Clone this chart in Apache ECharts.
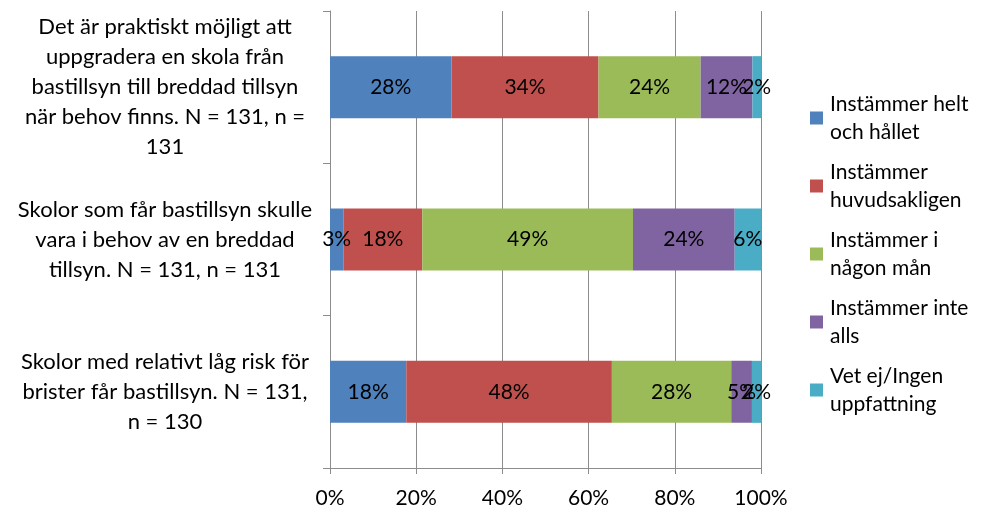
<!DOCTYPE html>
<html><head><meta charset="utf-8">
<script src="https://cdn.jsdelivr.net/npm/echarts@6/dist/echarts.min.js"></script>
<style>html,body{margin:0;padding:0;background:#fff}#c{width:982px;height:512px}</style>
</head><body><div id="c"></div>
<script>
const categories = [
  "Det är praktiskt möjligt att\nuppgradera en skola från\nbastillsyn till breddad tillsyn\nnär behov finns. N = 131, n =\n131",
  "Skolor som får bastillsyn skulle\nvara i behov av en breddad\ntillsyn. N = 131, n = 131",
  "Skolor med relativt låg risk för\nbrister får bastillsyn. N = 131,\nn = 130"
];
const seriesNames = [
  "Instämmer helt\noch hållet",
  "Instämmer\nhuvudsakligen",
  "Instämmer i\nnågon mån",
  "Instämmer inte\nalls",
  "Vet ej/Ingen\nuppfattning"
];
const helt = [28.2, 3.1, 17.7];
const huvudsakligen = [34.1, 18.3, 47.7];
const nagon = [23.7, 48.9, 27.7];
const inte = [12.0, 23.6, 4.8];
const vetej = [2.0, 6.1, 2.1];
const xTicks = [0, 20, 40, 60, 80, 100];
const colors = ["#4F81BD", "#C0504D", "#9BBB59", "#8064A2", "#4BACC6"];

const FONT = "Lato";
const allData = [helt, huvudsakligen, nagon, inte, vetej];
const L = 28;
const chart = echarts.init(document.getElementById('c'), null, {renderer: 'canvas'});
chart.setOption({
  animation: false,
  textStyle: {fontFamily: FONT},
  grid: {left: 330, right: 221, top: 11, bottom: 44, containLabel: false},
  legend: {
    orient: 'vertical', left: 810, top: 76, padding: 0,
    itemWidth: 13, itemHeight: 13, itemGap: -16,
    icon: 'rect',
    textStyle: {fontFamily: FONT, fontSize: 21, color: '#000', lineHeight: L, padding: [L, 0, 0, 2]},
    data: seriesNames
  },
  xAxis: {
    type: 'value', min: xTicks[0], max: xTicks[xTicks.length - 1], interval: 20,
    axisLine: {show: true, lineStyle: {color: '#8c8c8c', width: 1}},
    axisTick: {show: true, length: 6, lineStyle: {color: '#8c8c8c'}},
    splitLine: {show: true, lineStyle: {color: '#8c8c8c', width: 1}},
    axisLabel: {formatter: '{value}%', fontFamily: FONT, fontSize: 21, color: '#000', margin: 20}
  },
  yAxis: {
    type: 'category', inverse: true, data: categories,
    axisLine: {show: true, lineStyle: {color: '#8c8c8c', width: 1}},
    axisTick: {show: true, length: 7, lineStyle: {color: '#8c8c8c'}},
    axisLabel: {fontFamily: FONT, fontSize: 22, color: '#000', align: 'center', margin: 165, lineHeight: 30}
  },
  series: seriesNames.map((n, i) => ({
    name: n, type: 'bar', stack: 'total', barWidth: 62,
    itemStyle: {color: colors[i]},
    label: {show: true, position: 'inside', color: '#000', fontFamily: FONT, fontSize: 21,
      formatter: p => Math.round(p.value) + '%'},
    data: allData[i]
  }))
});
</script></body></html>
